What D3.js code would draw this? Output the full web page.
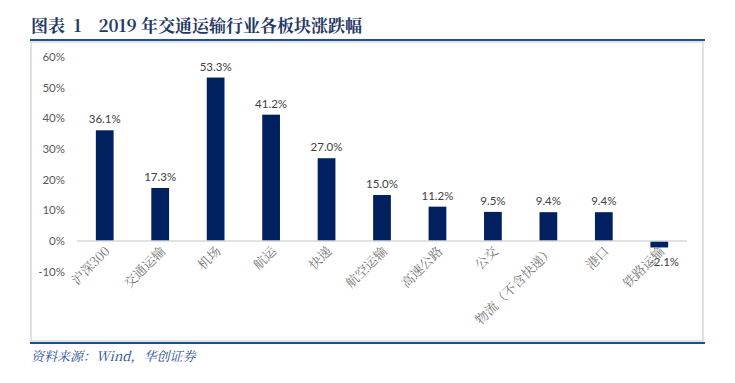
<!DOCTYPE html>
<html>
<head>
<meta charset="utf-8">
<script src="https://cdn.jsdelivr.net/npm/d3@7"></script>
<style>
  body { margin: 0; background: #fff; }
  text { white-space: pre; }
</style>
</head>
<body>
<div id="graph"></div>
<script>
const categories = ["沪深300", "交通运输", "机场", "航运", "快递", "航空运输", "高速公路", "公交", "物流（不含快递）", "港口", "铁路运输"]
const values = [36.1, 17.3, 53.3, 41.2, 27.0, 15.0, 11.2, 9.5, 9.4, 9.4, -2.1]
const yTicks = [-10, 0, 10, 20, 30, 40, 50, 60]

const width = 735
const height = 383

const svg = d3.select("#graph").append("svg")
    .attr("width", width)
    .attr("height", height)

// Title
svg.append("text")
    .attr("x", 31)
    .attr("y", 32)
    .attr("font-family", "'Noto Serif CJK SC', serif")
    .attr("font-size", 17)
    .attr("font-weight", "bold")
    .attr("fill", "#1F3864")
    .text("图表  1    2019 年交通运输行业各板块涨跌幅")

svg.append("line")
    .attr("x1", 30).attr("x2", 705)
    .attr("y1", 40).attr("y2", 40)
    .attr("stroke", "#1F4E99")
    .attr("stroke-width", 2)

// Chart frame
svg.append("rect")
    .attr("x", 31).attr("y", 42)
    .attr("width", 672).attr("height", 299)
    .attr("fill", "#fff")
    .attr("stroke", "#d9d9d9")
    .attr("stroke-width", 1.5)

const x = d3.scaleBand()
    .domain(categories)
    .range([77, 687])
    .paddingInner(0.68)
    .paddingOuter(0.34)

const y = d3.scaleLinear()
    .domain([-10, 60])
    .range([271.7, 57])

// Y axis labels
svg.append("g")
    .selectAll()
    .data(yTicks)
    .join("text")
    .attr("x", 65)
    .attr("y", d => y(d) + 4)
    .attr("text-anchor", "end")
    .attr("font-family", "Lato, 'Open Sans', sans-serif")
    .attr("font-size", 11.5)
    .attr("fill", "#595959")
    .text(d => d + "%")

// Bars
svg.append("g")
    .attr("fill", "#002060")
    .selectAll()
    .data(values)
    .join("rect")
    .attr("x", (d, i) => x(categories[i]))
    .attr("width", x.bandwidth())
    .attr("y", d => y(Math.max(0, d)))
    .attr("height", d => Math.abs(y(d) - y(0)))

// Zero line
svg.append("line")
    .attr("x1", 77).attr("x2", 687)
    .attr("y1", y(0)).attr("y2", y(0))
    .attr("stroke", "#d9d9d9")
    .attr("stroke-width", 1.5)

// Value labels
svg.append("g")
    .selectAll()
    .data(values)
    .join("text")
    .attr("x", (d, i) => x(categories[i]) + x.bandwidth() / 2 + (d < 0 ? 5 : 0))
    .attr("y", d => d >= 0 ? y(d) - 7 : y(d) + 19)
    .attr("text-anchor", "middle")
    .attr("font-family", "Lato, 'Open Sans', sans-serif")
    .attr("font-size", 11.5)
    .attr("fill", "#404040")
    .text(d => d.toFixed(1) + "%")

// Category labels
svg.append("g")
    .selectAll()
    .data(categories)
    .join("text")
    .attr("transform", d => `translate(${x(d) + x.bandwidth() / 2 + 6},${252}) rotate(-45)`)
    .attr("text-anchor", "end")
    .attr("font-family", "'Noto Serif CJK SC', 'Noto Sans CJK SC', serif")
    .attr("font-size", 13)
    .attr("fill", "#767676")
    .text(d => d)

// Source
svg.append("line")
    .attr("x1", 30).attr("x2", 705)
    .attr("y1", 343).attr("y2", 343)
    .attr("stroke", "#1F4E99")
    .attr("stroke-width", 2)

svg.append("text")
    .attr("x", 31)
    .attr("y", 361)
    .attr("font-family", "'Noto Serif CJK SC', serif")
    .attr("font-size", 13)
    .attr("font-style", "italic")
    .attr("fill", "#1F4E99")
    .text("资料来源：Wind，华创证券")
</script>
</body>
</html>
